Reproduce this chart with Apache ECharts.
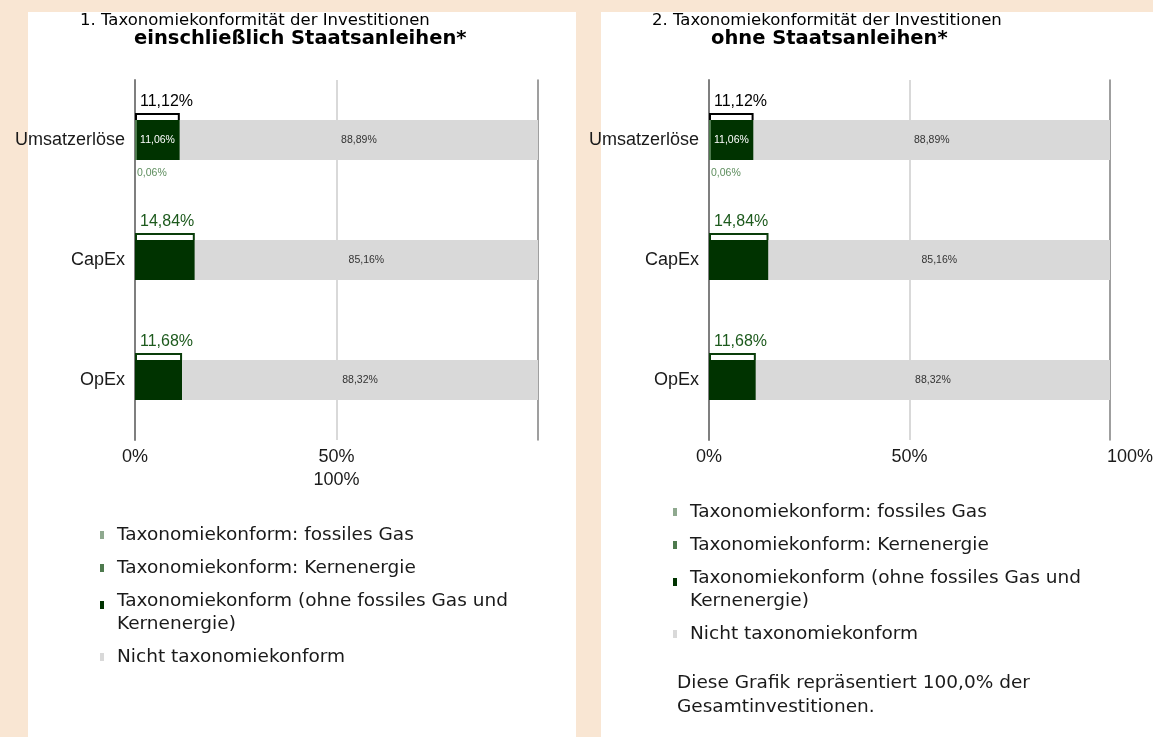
<!DOCTYPE html>
<html>
<head>
<meta charset="UTF-8">
<title></title>
<script src="https://cdn.jsdelivr.net/npm/echarts@6/dist/echarts.min.js"></script>
<style type="text/css">
	body{margin:0;background:#f9e6d3;}
	.panel{position:absolute;top:12px;bottom:0;background:#fff;}
	#panelA{left:28px;width:548px;height:725px;}
	#panelB{left:601px;width:552px;height:725px;}
	#chart{position:absolute;left:0;top:0;width:1153px;height:737px;}
</style>
</head>
<body>
<div class="panel" id="panelA"></div>
<div class="panel" id="panelB"></div>
<div id="chart"></div>
<script>
var categories = ['Umsatzerlöse', 'CapEx', 'OpEx'];
var seriesNames = ['Taxonomiekonform: fossiles Gas', 'Taxonomiekonform: Kernenergie', 'Taxonomiekonform (ohne fossiles Gas und Kernenergie)', 'Nicht taxonomiekonform'];

// 1. einschließlich Staatsanleihen (Werte in %)
var gasA = [0, 0, 0];
var nuclearA = [0.06, 0, 0];
var alignedA = [11.06, 14.84, 11.68];
var notAlignedA = [88.89, 85.16, 88.32];
// 2. ohne Staatsanleihen
var gasB = [0, 0, 0];
var nuclearB = [0.06, 0, 0];
var alignedB = [11.06, 14.84, 11.68];
var notAlignedB = [88.89, 85.16, 88.32];

var tickLabelsA = ['0%', '50%\n100%', ''];
var tickLabelsB = ['0%', '50%', '{r|100%}'];

var colors = ['#8fa98f', '#4e7a4e', '#003300', '#d9d9d9'];
var arial = '"Liberation Sans", Arial, sans-serif';
var verdana = '"DejaVu Sans", Verdana, sans-serif';

function pct(v){
	return v.toFixed(2).replace('.', ',') + '%';
}

function buildSeries(g, gas, nuc, tax, rest){
	var list = [];
	var small = function(arr){
		return arr.map(function(v){
			if (!(v > 0)) return '-';
			return {value: v, label: {show: true, position: [2, 48], formatter: function(p){ return pct(p.value); },
				color: '#5d8d5d', fontSize: 10.5, fontFamily: arial}};
		});
	};
	list.push({name: seriesNames[0], type: 'bar', stack: 's' + g, xAxisIndex: g, yAxisIndex: g * 2,
		barWidth: 40, barMinHeight: 2, z: 3, itemStyle: {color: colors[0]}, data: small(gas)});
	list.push({name: seriesNames[1], type: 'bar', stack: 's' + g, xAxisIndex: g, yAxisIndex: g * 2,
		barWidth: 40, barMinHeight: 2, z: 3, itemStyle: {color: colors[1]}, data: small(nuc)});
	list.push({name: seriesNames[2], type: 'bar', stack: 's' + g, xAxisIndex: g, yAxisIndex: g * 2,
		barWidth: 40, itemStyle: {color: colors[2]},
		data: tax.map(function(v, i){
			// Wert innen nur zeigen, wenn der Balken aufgeteilt ist
			var split = gas[i] + nuc[i] > 0;
			return {value: v, label: {show: split, position: 'inside', formatter: function(p){ return pct(p.value); },
				color: '#fff', fontSize: 10.5, fontFamily: arial}};
		})});
	list.push({name: seriesNames[3], type: 'bar', stack: 's' + g, xAxisIndex: g, yAxisIndex: g * 2,
		barWidth: 40, itemStyle: {color: colors[3]},
		label: {show: true, position: 'inside', formatter: function(p){ return pct(p.value); },
			color: '#333', fontSize: 10.5, fontFamily: arial},
		data: rest});
	// Klammer mit Summe über dem grünen Teil
	list.push({name: 'Summe', type: 'custom', xAxisIndex: g, yAxisIndex: g * 2, z: 5,
		data: tax.map(function(v, i){ return [gas[i] + nuc[i] + v, i]; }),
		renderItem: function(params, api){
			var i = api.value(1);
			var s = api.coord([0, i]);
			var e = api.coord([api.value(0), i]);
			var top = s[1] - 20;
			var split = gas[i] + nuc[i] > 0;
			var lineCol = split ? '#000' : '#0a3d0a';
			var txtCol = split ? '#000' : '#1d5a1d';
			return {type: 'group', children: [
				{type: 'polyline', shape: {points: [[s[0] + 1, top], [s[0] + 1, top - 6], [e[0] - 1, top - 6], [e[0] - 1, top]]},
					style: {stroke: lineCol, lineWidth: 2, fill: null}},
				{type: 'text', style: {text: pct(api.value(0)), x: s[0] + 5, y: top - 18, fill: txtCol,
					font: '16px ' + arial, verticalAlign: 'middle'}}
			]};
		}});
	return list;
}

function xAxisFor(g, ticks){
	return {gridIndex: g, type: 'value', min: 0, max: 100, interval: 50,
		axisLine: {show: false}, axisTick: {show: false},
		splitLine: {show: true, showMinLine: false, showMaxLine: false, lineStyle: {color: '#d9d9d9', width: 2}},
		axisLabel: {formatter: function(v){ return ticks[Math.round(v / 50)]; },
			fontFamily: arial, fontSize: 18, color: '#1a1a1a', margin: 6, lineHeight: 23, verticalAlign: 'top',
			rich: {r: {fontFamily: arial, fontSize: 18, color: '#1a1a1a', lineHeight: 23, padding: [0, 0, 0, 40]}}}};
}
function yAxesFor(g){
	return [
		{gridIndex: g, type: 'category', data: categories, inverse: true,
			axisLine: {onZero: false, lineStyle: {color: '#7f7f7f', width: 2}}, axisTick: {show: false},
			axisLabel: {fontFamily: arial, fontSize: 18, color: '#1a1a1a', margin: 10}},
		{gridIndex: g, type: 'category', data: categories, inverse: true, position: 'right',
			axisLine: {onZero: false, lineStyle: {color: '#7f7f7f', width: 1.5}}, axisTick: {show: false},
			axisLabel: {show: false}}
	];
}

var iconOne = 'path://M0,0M12,23M0,7.5h4v8h-4z';
var iconTwo = 'path://M0,0h4v8h-4zM12,23';
function legendFor(left, top){
	return {left: left, top: top, orient: 'vertical', padding: 0, itemGap: 10, itemWidth: 12, itemHeight: 23,
		selectedMode: false,
		data: seriesNames.map(function(n){ return {name: n, icon: n.indexOf(' und ') > 0 ? iconTwo : iconOne}; }),
		formatter: function(n){ return n.replace(' und ', ' und\n'); },
		textStyle: {fontFamily: verdana, fontSize: 18.5, lineHeight: 23, color: '#1a1a1a'}};
}

var myChart = echarts.init(document.getElementById('chart'));
var option = {
	animation: false,
	title: [
		{text: '1. Taxonomiekonformität der Investitionen', left: 80, top: 11, padding: 0,
			textStyle: {fontFamily: verdana, fontSize: 16.5, fontWeight: 'normal', color: '#000', lineHeight: 20}},
		{text: 'einschließlich Staatsanleihen*', left: 134, top: 28, padding: 0,
			textStyle: {fontFamily: verdana, fontSize: 19.5, fontWeight: 'bold', color: '#000', lineHeight: 22}},
		{text: '2. Taxonomiekonformität der Investitionen', left: 652, top: 11, padding: 0,
			textStyle: {fontFamily: verdana, fontSize: 16.5, fontWeight: 'normal', color: '#000', lineHeight: 20}},
		{text: 'ohne Staatsanleihen*', left: 711, top: 28, padding: 0,
			textStyle: {fontFamily: verdana, fontSize: 19.5, fontWeight: 'bold', color: '#000', lineHeight: 22}}
	],
	grid: [
		{left: 135, top: 80, width: 403, height: 360, outerBoundsMode: 'none'},
		{left: 709, top: 80, width: 401, height: 360, outerBoundsMode: 'none'}
	],
	xAxis: [xAxisFor(0, tickLabelsA), xAxisFor(1, tickLabelsB)],
	yAxis: yAxesFor(0).concat(yAxesFor(1)),
	legend: [legendFor(100, 523.5), legendFor(673, 500.5)],
	graphic: [
		{type: 'text', left: 677, top: 671, style: {text: 'Diese Grafik repräsentiert 100,0% der\nGesamtinvestitionen.',
			font: '18.5px ' + verdana, lineHeight: 24, fill: '#1a1a1a'}}
	],
	series: buildSeries(0, gasA, nuclearA, alignedA, notAlignedA).concat(buildSeries(1, gasB, nuclearB, alignedB, notAlignedB))
};
myChart.setOption(option);
</script>
</body>
</html>
